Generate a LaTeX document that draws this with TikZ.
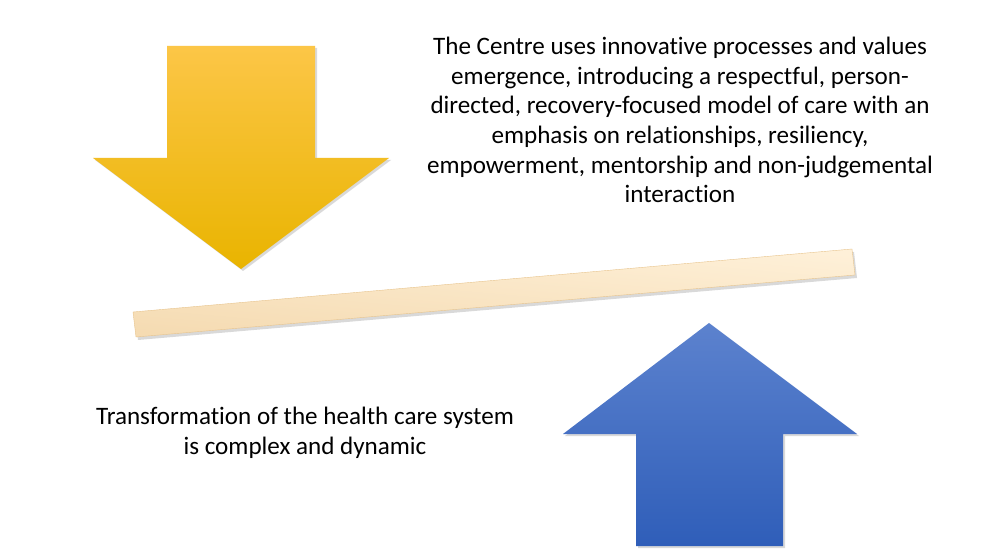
\documentclass[tikz,border=0pt]{standalone}
\usepackage{fontspec}
\setmainfont{Carlito}[Ligatures={NoCommon}]
\usetikzlibrary{calc}
\definecolor{ytop}{HTML}{FCC647}
\definecolor{ymid}{HTML}{FFC800}
\definecolor{ybot}{HTML}{E9B400}
\definecolor{btop}{HTML}{5C82CE}
\definecolor{bbot}{HTML}{2F5EB9}
\definecolor{bartop}{HTML}{FEF0D8}
\definecolor{barbot}{HTML}{F5DBB2}
\definecolor{baredge}{HTML}{E8C48C}
\tikzset{
  shadowcopy/.style={fill=black, opacity=0.15},
  txt/.style={align=center, font=\fontsize{25.2}{29.8}\selectfont, text=black, inner sep=0pt},
}
\begin{document}
\begin{tikzpicture}[x=1bp,y=-1bp]
\useasboundingbox (0,0) rectangle (987,559);
\fill[white] (0,0) rectangle (987,559);
% yellow down arrow
\coordinate (ya1) at (167,46);
\coordinate (ya2) at (315,46);
\coordinate (ya3) at (315,158);
\coordinate (ya4) at (389,158);
\coordinate (ya5) at (241,269);
\coordinate (ya6) at (93,158);
\coordinate (ya7) at (167,158);
\fill[shadowcopy] ($(ya1)+(2,2)$) -- ($(ya2)+(2,2)$) -- ($(ya3)+(2,2)$) -- ($(ya4)+(2,2)$) -- ($(ya5)+(2,2)$) -- ($(ya6)+(2,2)$) -- ($(ya7)+(2,2)$) -- cycle;
\shade[top color=ytop, middle color=ymid, bottom color=ybot] (ya1) -- (ya2) -- (ya3) -- (ya4) -- (ya5) -- (ya6) -- (ya7) -- cycle;
% bar
\coordinate (b1) at (133,312);
\coordinate (b2) at (852,249);
\coordinate (b3) at (855,275);
\coordinate (b4) at (136,337);
\fill[shadowcopy] ($(b1)+(2,3)$) -- ($(b2)+(2,3)$) -- ($(b3)+(2,3)$) -- ($(b4)+(2,3)$) -- cycle;
\shade[top color=bartop, bottom color=barbot, shading angle=-5] (b1) -- (b2) -- (b3) -- (b4) -- cycle;
\draw[baredge, line width=0.4bp] (b1) -- (b2) -- (b3) -- (b4) -- cycle;
% blue up arrow
\coordinate (ba1) at (709,323);
\coordinate (ba2) at (857,434);
\coordinate (ba3) at (783,434);
\coordinate (ba4) at (783,546);
\coordinate (ba5) at (636,546);
\coordinate (ba6) at (636,434);
\coordinate (ba7) at (563,434);
\fill[shadowcopy] ($(ba1)+(2,2)$) -- ($(ba2)+(2,2)$) -- ($(ba3)+(2,2)$) -- ($(ba4)+(2,2)$) -- ($(ba5)+(2,2)$) -- ($(ba6)+(2,2)$) -- ($(ba7)+(2,2)$) -- cycle;
\shade[top color=btop, bottom color=bbot] (ba1) -- (ba2) -- (ba3) -- (ba4) -- (ba5) -- (ba6) -- (ba7) -- cycle;
% texts
\node[txt] (toptext) at (680,120) {The Centre uses innovative processes and values\\emergence, introducing a respectful, person-\\directed, recovery-focused model of care with an\\emphasis on relationships, resiliency,\\empowerment, mentorship and non-judgemental\\interaction};
\node[txt] (bottext) at (305,433) {Transformation of the health care system\\is complex and dynamic};
\end{tikzpicture}
\end{document}
